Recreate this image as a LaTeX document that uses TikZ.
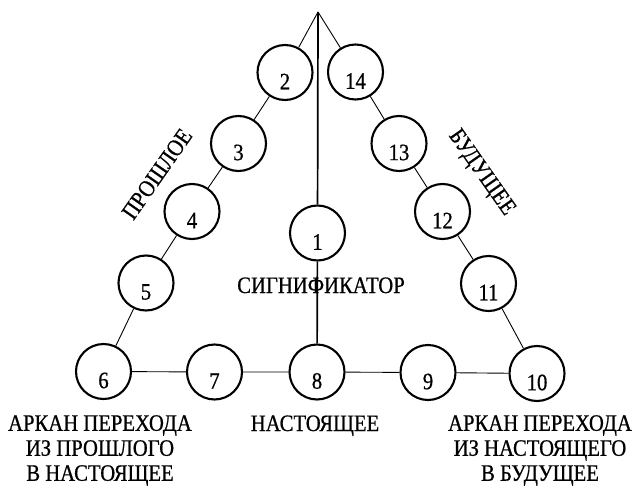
\documentclass[tikz,border=0pt]{standalone}
\usepackage{fontspec}
\setmainfont{Liberation Serif}[FakeStretch=0.88,FakeBold=0.7]
\begin{document}
\begin{tikzpicture}[x=1pt,y=-1pt,
  ring/.style={circle, draw, line width=2.1pt, minimum size=55pt, inner sep=0pt},
  link/.style={line width=0.9pt},
  axisline/.style={line width=1.7pt},
  lab/.style={inner sep=0pt, font=\fontsize{23.5}{25}\selectfont},
  num/.style={label={[lab, yshift=-9pt]center:#1}}
]
\useasboundingbox (0,0) rectangle (634,487);
\coordinate (apex) at (318,12);
\node[ring, num=1]  (n1)  at (317.5,233) {};
\node[ring, num=2]  (n2)  at (285,72.5) {};
\node[ring, num=3]  (n3)  at (238.5,143.5) {};
\node[ring, num=4]  (n4)  at (192,211.5) {};
\node[ring, num=5]  (n5)  at (146,283) {};
\node[ring, num=6]  (n6)  at (103.5,371.5) {};
\node[ring, num=7]  (n7)  at (214.5,372) {};
\node[ring, num=8]  (n8)  at (317,372) {};
\node[ring, num=9]  (n9)  at (428,372.5) {};
\node[ring, num=10] (n10) at (537,373.5) {};
\node[ring, num=11] (n11) at (488.5,283.5) {};
\node[ring, num=12] (n12) at (442.5,211.5) {};
\node[ring, num=13] (n13) at (399,143.5) {};
\node[ring, num=14] (n14) at (355.5,72) {};

\draw[link] (apex) -- (n2) (n2) -- (n3) (n3) -- (n4) (n4) -- (n5) (n5) -- (n6);
\draw[link] (apex) -- (n14) (n14) -- (n13) (n13) -- (n12) (n12) -- (n11) (n11) -- (n10);
\draw[link] (n6) -- (n7) (n7) -- (n8) (n8) -- (n9) (n9) -- (n10);
\draw[axisline] (apex) -- (n1) (n1) -- (n8);

\node[lab, rotate=55]  (past)   at (157,174) {ПРОШЛОЕ};
\node[lab, rotate=-55] (future) at (481,173) {БУДУЩЕЕ};
\node[lab, anchor=base] (sig) at (321,293) {СИГНИФИКАТОР};
\node[lab, anchor=base] (now) at (315,431) {НАСТОЯЩЕЕ};
\node[lab, anchor=north, align=center] (arc1) at (100,415) {АРКАН ПЕРЕХОДА\\ИЗ ПРОШЛОГО\\В НАСТОЯЩЕЕ};
\node[lab, anchor=north, align=center] (arc2) at (540,415) {АРКАН ПЕРЕХОДА\\ИЗ НАСТОЯЩЕГО\\В БУДУЩЕЕ};
\end{tikzpicture}
\end{document}
